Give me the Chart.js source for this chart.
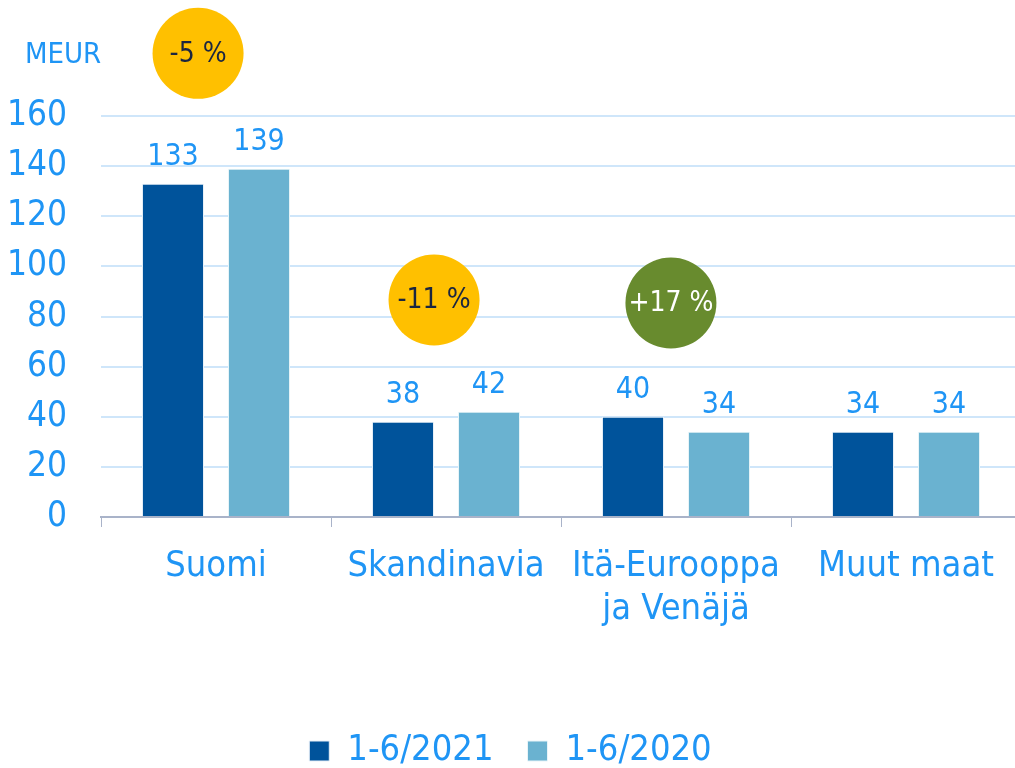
<!DOCTYPE html>
<html><head><meta charset="utf-8">
<script src="https://cdn.jsdelivr.net/npm/chart.js@4/dist/chart.umd.min.js"></script>
<style>html,body{margin:0;padding:0;overflow:hidden;background:#fff;width:1015px;height:768px}#wrap{width:1023px;height:779px}</style>
</head><body><div id="wrap"><canvas id="c" width="1023" height="779"></canvas></div>
<script>
const categories = ['Suomi', 'Skandinavia', ['Itä-Eurooppa', 'ja Venäjä'], 'Muut maat'];
const series2021 = [133, 38, 40, 34];
const series2020 = [139, 42, 34, 34];
const seriesNames = ['1-6/2021', '1-6/2020'];
const yTicks = [0, 20, 40, 60, 80, 100, 120, 140, 160];
const changeLabels = ['-5 %', '-11 %', '+17 %'];
const changePosX = [-0.078, 0.948, 1.978];
const changePosY = [185, 86.6, 85.4];
const changeColors = ['#FFC000', '#FFC000', '#688B2E'];
const changeTextColors = ['#1b2640', '#1b2640', '#ffffff'];
const unitLabel = 'MEUR';

const FONT = '"DejaVu Sans Condensed", "DejaVu Sans", sans-serif';
const BLUE = '#1f95f5';
const PLOT_BOTTOM = 517;

const extras = {
  id: 'extras',
  afterDatasetsDraw(chart) {
    const ctx = chart.ctx;
    ctx.save();
    ctx.font = '30px ' + FONT;
    ctx.fillStyle = BLUE;
    ctx.textAlign = 'center';
    ctx.textBaseline = 'alphabetic';
    chart.data.datasets.forEach((ds, di) => {
      chart.getDatasetMeta(di).data.forEach((bar, i) => {
        ctx.fillText(String(ds.data[i]), bar.x, bar.y - 19);
      });
    });
    const xs = chart.scales.x, ys = chart.scales.y;
    changeLabels.forEach((t, i) => {
      const cx = xs.getPixelForValue(changePosX[i]);
      const cy = ys.getPixelForValue(changePosY[i]);
      ctx.beginPath();
      ctx.arc(cx, cy, 45.5, 0, Math.PI * 2);
      ctx.fillStyle = changeColors[i];
      ctx.fill();
      ctx.fillStyle = changeTextColors[i];
      ctx.font = '28px ' + FONT;
      ctx.textBaseline = 'middle';
      ctx.fillText(t, cx, cy + 1);
    });
    ctx.fillStyle = BLUE;
    ctx.font = '29px ' + FONT;
    ctx.textAlign = 'left';
    ctx.textBaseline = 'alphabetic';
    ctx.fillText(unitLabel, 25, 63);
    ctx.restore();
  }
};

new Chart(document.getElementById('c'), {
  type: 'bar',
  data: {
    labels: categories,
    datasets: [
      { label: seriesNames[0], data: series2021, backgroundColor: '#00539B', borderColor: '#e8f0f8', borderWidth: 1, barPercentage: 0.721, categoryPercentage: 0.748 },
      { label: seriesNames[1], data: series2020, backgroundColor: '#6AB2D0', borderColor: '#e8f4f8', borderWidth: 1, barPercentage: 0.721, categoryPercentage: 0.748 }
    ]
  },
  options: {
    responsive: false,
    animation: false,
    layout: { padding: { top: 116, right: 2, left: 0, bottom: 0 } },
    plugins: {
      tooltip: { enabled: false },
      legend: {
        position: 'bottom',
        labels: {
          boxWidth: 20, boxHeight: 20, padding: 34,
          color: BLUE,
          font: { family: FONT, size: 36 }
        }
      }
    },
    scales: {
      x: {
        grid: { display: true, drawOnChartArea: false, drawTicks: true, tickLength: 10, color: '#a9b3c9', lineWidth: 1, offset: true },
        border: { display: true, color: '#a9b3c9', width: 2 },
        ticks: { color: BLUE, font: { family: FONT, size: 36, lineHeight: 1.2 }, padding: 18, maxRotation: 0, autoSkip: false },
        afterFit(s) {
          const lg = s.chart.legend;
          const lh = lg && lg.height ? lg.height : 110;
          s.height = s.chart.height - lh - PLOT_BOTTOM;
        }
      },
      y: {
        min: 0, max: 160,
        afterBuildTicks(s) { s.ticks = yTicks.map(v => ({ value: v })); },
        grid: { color: '#cfe6fa', lineWidth: 2, drawTicks: false },
        border: { display: false },
        ticks: { color: BLUE, font: { family: FONT, size: 35 }, padding: 34 },
        afterFit(s) { s.width = 101; }
      }
    }
  },
  plugins: [extras]
});
</script>
</body></html>
